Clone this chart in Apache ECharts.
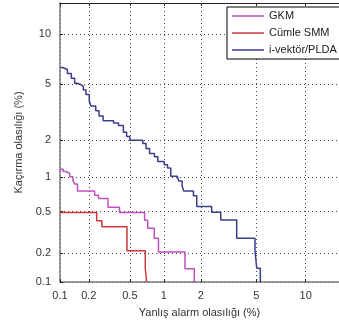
<!DOCTYPE html>
<html>
<head>
<meta charset="utf-8">
<script src="https://cdn.jsdelivr.net/npm/echarts@6/dist/echarts.min.js"></script>
<style>
  html, body { margin: 0; padding: 0; background: #fff; }
  #chart { width: 339px; height: 323px; }
</style>
</head>
<body>
<div id="chart"></div>
<script>
// DET curves, values in percent: [false alarm %, miss %]
const tickPct    = [0.1, 0.2, 0.5, 1, 2, 5, 10]
const tickLabels = ['0.1', '0.2', '0.5', '1', '2', '5', '10']
const xRangePct  = [0.1, 15]
const yRangePct  = [0.1, 14.6]

const seriesNames = ['GKM', 'Cümle SMM', 'i-vektör/PLDA']

const gkm = [
  [0.1, 1.17], [0.108, 1.12], [0.116, 1.08], [0.127, 1.01], [0.137, 0.947],
  [0.143, 0.877], [0.153, 0.765], [0.229, 0.70], [0.25, 0.656], [0.31, 0.547],
  [0.40, 0.49], [0.68, 0.415], [0.725, 0.348], [0.828, 0.28], [0.90, 0.205],
  [1.50, 0.138], [1.78, 0.1],
]

const cumleSmm = [
  [0.1, 0.49], [0.24, 0.41], [0.27, 0.36], [0.47, 0.21], [0.69, 0.14], [0.71, 0.1],
]

const ivector = [
  [0.1, 6.37], [0.107, 6.19], [0.12, 5.85], [0.132, 5.44], [0.143, 5.06],
  [0.152, 4.94], [0.167, 4.82], [0.176, 4.56], [0.187, 4.25], [0.202, 3.84],
  [0.21, 3.55], [0.235, 3.28], [0.253, 3.02], [0.278, 2.79], [0.327, 2.79],
  [0.351, 2.68], [0.391, 2.57], [0.435, 2.29], [0.466, 2.13], [0.50, 1.99],
  [0.615, 1.99], [0.656, 1.876], [0.701, 1.718], [0.753, 1.572], [0.831, 1.481],
  [0.888, 1.352], [1.008, 1.272], [1.076, 1.195], [1.145, 1.022], [1.297, 1.022],
  [1.336, 0.929], [1.422, 0.843], [1.464, 0.765], [1.752, 0.693], [1.86, 0.555],
  [2.42, 0.493], [2.826, 0.418], [3.677, 0.28], [4.90, 0.206], [5.03, 0.1395],
  [5.31, 0.1],
]

const COLORS = {
  gkm:    '#c04fc0',
  smm:    '#c83a3a',
  ivec:   '#3c3c8c',
  axis:   '#7a7a7a',
  text:   '#333333',
  grid:   '#444444',
}

// inverse normal CDF (Acklam) -> DET probit scale
function norminv(p) {
  const a = [-3.969683028665376e+01, 2.209460984245205e+02, -2.759285104469687e+02, 1.383577518672690e+02, -3.066479806614716e+01, 2.506628277459239e+00]
  const b = [-5.447609879822406e+01, 1.615858368580409e+02, -1.556989798598866e+02, 6.680131188771972e+01, -1.328068155288572e+01]
  const c = [-7.784894002430293e-03, -3.223964580411365e-01, -2.400758277161838e+00, -2.549732539343734e+00, 4.374664141464968e+00, 2.938163982698783e+00]
  const d = [7.784695709041462e-03, 3.224671290700398e-01, 2.445134137142996e+00, 3.754408661907416e+00]
  const pl = 0.02425
  if (p < pl) {
    const q = Math.sqrt(-2 * Math.log(p))
    return (((((c[0]*q+c[1])*q+c[2])*q+c[3])*q+c[4])*q+c[5]) / ((((d[0]*q+d[1])*q+d[2])*q+d[3])*q+1)
  }
  if (p <= 1 - pl) {
    const q = p - 0.5, r = q * q
    return (((((a[0]*r+a[1])*r+a[2])*r+a[3])*r+a[4])*r+a[5])*q / (((((b[0]*r+b[1])*r+b[2])*r+b[3])*r+b[4])*r+1)
  }
  const q = Math.sqrt(-2 * Math.log(1 - p))
  return -(((((c[0]*q+c[1])*q+c[2])*q+c[3])*q+c[4])*q+c[5]) / ((((d[0]*q+d[1])*q+d[2])*q+d[3])*q+1)
}

const probit = pct => norminv(pct / 100)
const tickVals = tickPct.map(probit)
const toProbit = arr => arr.map(([x, y]) => [probit(x), probit(y)])

function tickLabel(v) {
  let best = 0
  tickVals.forEach((t, i) => { if (Math.abs(t - v) < Math.abs(tickVals[best] - v)) best = i })
  return tickLabels[best]
}

const font = "'Liberation Sans', Arial, sans-serif"

function makeAxis(range, extra) {
  return Object.assign({
    type: 'value',
    min: probit(range[0]),
    max: probit(range[1]),
    axisLine:  { show: true, lineStyle: { color: COLORS.axis, width: 1.5 } },
    axisTick:  { show: true, inside: true, length: 3, customValues: tickVals, lineStyle: { color: '#222' } },
    axisLabel: { customValues: tickVals, formatter: tickLabel, color: COLORS.text, fontSize: 11, fontFamily: font },
    splitLine: { show: true, lineStyle: { color: COLORS.grid, type: [1, 3], width: 1 } },
  }, extra)
}

const chart = echarts.init(document.getElementById('chart'), null, { renderer: 'canvas' })

const lineSeries = (name, data, color) => ({
  name,
  type: 'line',
  step: 'end',
  data: toProbit(data),
  symbol: 'none',
  lineStyle: { color, width: 1.5 },
  itemStyle: { color },
  clip: true,
})

chart.setOption({
  animation: false,
  backgroundColor: '#fff',
  grid: { left: 60, top: 3, width: 286, height: 285 },
  legend: {
    orient: 'vertical',
    left: 227,
    top: 7,
    padding: [2, 6, 2, 5],
    itemGap: 3,
    itemWidth: 32,
    itemHeight: 1.5,
    icon: 'rect',
    backgroundColor: '#fff',
    borderColor: '#000',
    borderWidth: 1,
    borderRadius: 0,
    textStyle: { color: '#222', fontSize: 11, fontFamily: font, lineHeight: 14 },
    data: seriesNames,
  },
  xAxis: [
    makeAxis(xRangePct, {
      position: 'bottom',
      name: 'Yanlış alarm olasılığı (%)',
      nameLocation: 'middle',
      nameGap: 25,
      nameTextStyle: { color: COLORS.text, fontSize: 11, fontFamily: font },
    }),
    makeAxis(xRangePct, {
      position: 'top',
      axisLine:  { show: true, lineStyle: { color: '#222', width: 1 } },
      axisLabel: { show: false },
      splitLine: { show: false },
    }),
  ],
  yAxis: makeAxis(yRangePct, {
    position: 'left',
    name: 'Kaçırma olasılığı (%)',
    nameLocation: 'middle',
    nameGap: 35,
    nameTextStyle: { color: COLORS.text, fontSize: 11, fontFamily: font },
    axisLabel: { customValues: tickVals, formatter: tickLabel, color: COLORS.text, fontSize: 11, fontFamily: font, margin: 9 },
  }),
  series: [
    lineSeries(seriesNames[0], gkm, COLORS.gkm),
    lineSeries(seriesNames[1], cumleSmm, COLORS.smm),
    lineSeries(seriesNames[2], ivector, COLORS.ivec),
  ],
})
</script>
</body>
</html>
